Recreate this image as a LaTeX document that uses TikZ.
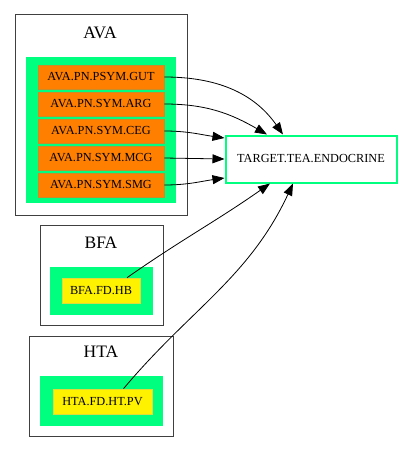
\documentclass[tikz,border=0pt]{standalone}
\usepackage{fontspec}
\setmainfont{Liberation Serif}
\usetikzlibrary{arrows.meta}

\definecolor{springgreen}{RGB}{0,255,127}
\definecolor{nodeorange}{RGB}{255,127,0}
\definecolor{orangeedge}{RGB}{200,140,40}
\definecolor{yellowedge}{RGB}{220,220,60}

\tikzset{
  cluster/.style = {draw=black!75, line width=1pt},
  greenbg/.style = {fill=springgreen, draw=none},
  orangenode/.style = {draw=orangeedge, fill=nodeorange, line width=0.6pt, minimum width=126pt, minimum height=24pt, inner sep=0pt, font=\fontsize{12.3}{14}\selectfont},
  yellownode/.style = {draw=yellowedge, fill=yellow, line width=0.6pt, minimum height=25pt, inner sep=0pt, font=\fontsize{12.3}{14}\selectfont},
  clusterlabel/.style = {font=\fontsize{17.5}{20}\selectfont},
  edge/.style = {->, line width=0.8pt}
}

\begin{document}
\begin{tikzpicture}[x=1pt, y=-1pt, >={Triangle[length=12pt,width=9pt]}]
    \useasboundingbox (0,0) rectangle (403,452);
    % Draw the clusters
    \draw[cluster] (15,15) rectangle (187,215);
    \node[clusterlabel] (avalabel) at (100,33) {AVA};
    \fill[springgreen] (26,57) rectangle (176,203);
    \draw[cluster] (40,225) rectangle (163,325);
    \node[clusterlabel] (bfalabel) at (101,243) {BFA};
    \fill[springgreen] (50,267) rectangle (153,315);
    \draw[cluster] (29,336) rectangle (173,436);
    \node[clusterlabel] (htalabel) at (101,352) {HTA};
    \fill[springgreen] (40,376) rectangle (163,426);
    % Draw the source nodes
    \node[orangenode] (gut) at (101,77) {AVA.PN.PSYM.GUT};
    \node[orangenode] (arg) at (101,104) {AVA.PN.SYM.ARG};
    \node[orangenode] (ceg) at (101,131) {AVA.PN.SYM.CEG};
    \node[orangenode] (mcg) at (101,158) {AVA.PN.SYM.MCG};
    \node[orangenode] (smg) at (101,185) {AVA.PN.SYM.SMG};
    \node[yellownode, minimum width=78pt] (hb) at (101,290.5) {BFA.FD.HB};
    \node[yellownode, minimum width=99pt] (pv) at (102.5,401.5) {HTA.FD.HT.PV};
    % Draw the target node
    \node[draw=springgreen, line width=2pt, fill=white, minimum width=171pt, minimum height=47pt, inner sep=0pt, font=\fontsize{12.3}{14}\selectfont] (target) at (311,159) {TARGET.TEA.ENDOCRINE};
    % Draw the edges
    \draw[edge] (gut.east) to[out=0, in=125] ([xshift=-28pt]target.north);
    \draw[edge] (arg.east) to[out=0, in=150] ([xshift=-44pt]target.north);
    \draw[edge] (ceg.east) to[out=0, in=172] ([yshift=21pt]target.west);
    \draw[edge] (mcg.east) -- (target.west);
    \draw[edge] (smg.east) to[out=0, in=188] ([yshift=-19pt]target.west);
    \draw[edge] ([xshift=26pt]hb.north) to[out=35, in=-145] ([xshift=-41pt]target.south);
    \draw[edge] ([xshift=21pt]pv.north) to[out=50, in=-115] ([xshift=-18pt]target.south);
\end{tikzpicture}
\end{document}
